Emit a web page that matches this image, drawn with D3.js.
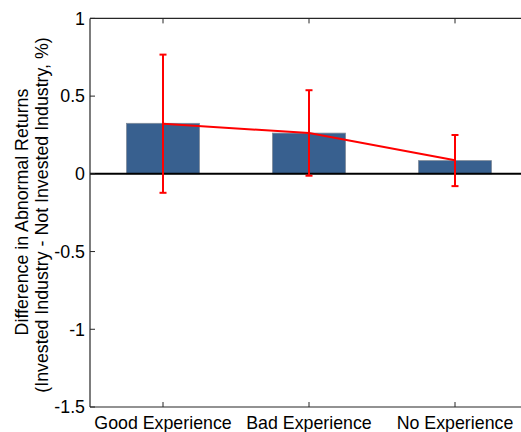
<!DOCTYPE html>
<html><head><meta charset="utf-8">
<script src="https://cdn.jsdelivr.net/npm/d3@7"></script>
<style>body{margin:0;background:#fff}svg{display:block}text{font-family:"Liberation Sans",Arial,Helvetica,sans-serif}</style>
</head><body><svg id="c" width="521" height="432"></svg>
<script>
const categories = ["Good Experience", "Bad Experience", "No Experience"];
const barValues = [0.325, 0.262, 0.085];
const lineValues = [0.322, 0.262, 0.087];
const errLow = [-0.122, -0.012, -0.079];
const errHigh = [0.767, 0.538, 0.250];
const yTicks = [1, 0.5, 0, -0.5, -1, -1.5];
const yTickLabels = ["1", "0.5", "0", "-0.5", "-1", "-1.5"];
const yLabelLines = ["Difference in Abnormal Returns", "(Invested Industry - Not Invested Industry, %)"];

const svg = d3.select("#c");
const L = 90, R = 528, T = 18.4, B = 407;
const FS = 17.8;
const x = d3.scaleLinear().domain([0.5, 3.5]).range([L, R]);
const y = d3.scaleLinear().domain([-1.5, 1]).range([B, T]);
const barW = x(1.25) - x(0.75);

// bars
svg.selectAll("rect.bar").data(barValues).enter().append("rect")
  .attr("x", (d, i) => x(i + 1) - barW / 2)
  .attr("y", d => y(Math.max(0, d)))
  .attr("width", barW)
  .attr("height", d => Math.abs(y(d) - y(0)))
  .attr("fill", "#38608f")
  .attr("stroke", "#7f8a99").attr("stroke-width", 0.8);

// zero line
svg.append("line").attr("x1", L).attr("x2", R).attr("y1", y(0)).attr("y2", y(0))
  .attr("stroke", "#000").attr("stroke-width", 2);

// axes box
const axisColor = "#262626";
svg.append("line").attr("x1", L).attr("x2", R).attr("y1", T).attr("y2", T).attr("stroke", axisColor).attr("stroke-width", 1.2);
svg.append("line").attr("x1", L).attr("x2", R).attr("y1", B).attr("y2", B).attr("stroke", axisColor).attr("stroke-width", 1.2);
svg.append("line").attr("x1", L).attr("x2", L).attr("y1", T).attr("y2", B).attr("stroke", axisColor).attr("stroke-width", 1.2);

// y ticks
const yAxis = svg.append("g");
yTicks.forEach((t, i) => {
  yAxis.append("line").attr("x1", L).attr("x2", L + 5).attr("y1", y(t)).attr("y2", y(t)).attr("stroke", axisColor).attr("stroke-width", 1);
  yAxis.append("text").attr("x", L - 5).attr("y", y(t)).attr("dy", "0.35em")
    .attr("text-anchor", "end").attr("font-size", FS).attr("fill", "#000").text(yTickLabels[i]);
});
// x ticks
categories.forEach((c, i) => {
  const xx = x(i + 1);
  svg.append("line").attr("x1", xx).attr("x2", xx).attr("y1", B).attr("y2", B - 5).attr("stroke", axisColor);
  svg.append("line").attr("x1", xx).attr("x2", xx).attr("y1", T).attr("y2", T + 5).attr("stroke", axisColor);
  svg.append("text").attr("x", xx).attr("y", 429).attr("text-anchor", "middle")
    .attr("font-size", FS).attr("fill", "#000").text(c);
});

// line
svg.append("path").datum(lineValues)
  .attr("d", d3.line().x((d, i) => x(i + 1)).y(d => y(d)))
  .attr("fill", "none").attr("stroke", "#ff0000").attr("stroke-width", 2);

// error bars
const eb = svg.append("g").attr("stroke", "#ff0000").attr("stroke-width", 2);
categories.forEach((c, i) => {
  const xx = x(i + 1);
  eb.append("line").attr("x1", xx).attr("x2", xx).attr("y1", y(errLow[i])).attr("y2", y(errHigh[i]));
  eb.append("line").attr("x1", xx - 3.5).attr("x2", xx + 3.5).attr("y1", y(errLow[i])).attr("y2", y(errLow[i]));
  eb.append("line").attr("x1", xx - 3.5).attr("x2", xx + 3.5).attr("y1", y(errHigh[i])).attr("y2", y(errHigh[i]));
});

// y label
const centers = [212, 215];
yLabelLines.forEach((s, i) => {
  const bx = i === 0 ? 28 : 48;
  svg.append("text").attr("transform", `translate(${bx},${centers[i]}) rotate(-90)`)
    .attr("text-anchor", "middle").attr("font-size", FS).attr("fill", "#000").text(s);
});
</script></body></html>
